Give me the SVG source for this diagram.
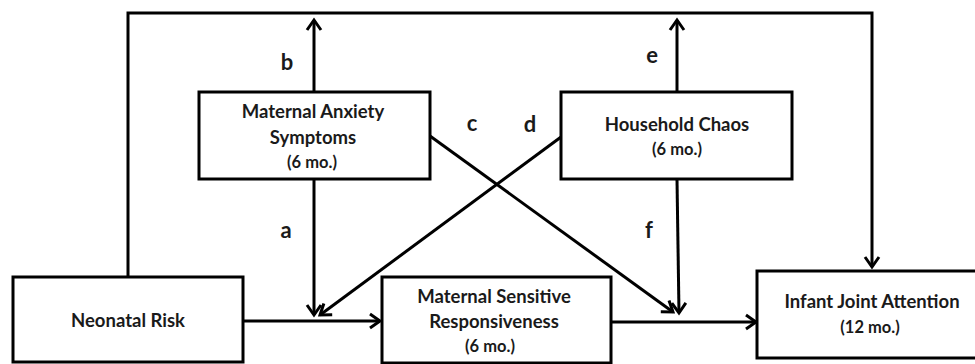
<svg xmlns="http://www.w3.org/2000/svg" width="975" height="364" viewBox="0 0 975 364">
<style>
.box{fill:#fff;stroke:#000;stroke-width:3}
.t{font-family:Lato,"Liberation Sans",sans-serif;font-weight:bold;font-size:18.5px;fill:#1a1a1a;text-anchor:middle}
.s{font-size:16.5px}
.lbl{font-family:Lato,"Liberation Sans",sans-serif;font-weight:bold;font-size:22px;fill:#1a1a1a;text-anchor:middle}
.c{fill:none;stroke:#000;stroke-width:3}
</style>
<defs>
<marker id="ah" markerUnits="userSpaceOnUse" markerWidth="20" markerHeight="20" viewBox="-12 -10 14 20" refX="0" refY="0" orient="auto">
<path d="M-10,-7 L0,0 L-10,7" fill="none" stroke="#000" stroke-width="3"/>
</marker>
</defs>
<rect width="975" height="364" fill="#fff"/>
<g id="connectors">
<polyline class="c" points="128,277 128,13 872,13 872,267" marker-end="url(#ah)"/>
<line class="c" x1="314" y1="92" x2="314" y2="20" marker-end="url(#ah)"/>
<line class="c" x1="677" y1="92" x2="677" y2="20" marker-end="url(#ah)"/>
<line class="c" x1="314" y1="179" x2="314" y2="315" marker-end="url(#ah)"/>
<line class="c" x1="677" y1="179" x2="679" y2="313" marker-end="url(#ah)"/>
<line class="c" x1="430" y1="136" x2="673" y2="312" marker-end="url(#ah)"/>
<line class="c" x1="561" y1="137" x2="320" y2="315" marker-end="url(#ah)"/>
<line class="c" x1="243" y1="321" x2="380" y2="321" marker-end="url(#ah)"/>
<line class="c" x1="611" y1="322" x2="756" y2="322" marker-end="url(#ah)"/>
<text class="lbl" x="287" y="70">b</text>
<text class="lbl" x="652" y="63">e</text>
<text class="lbl" x="472" y="131">c</text>
<text class="lbl" x="530" y="132">d</text>
<text class="lbl" x="286" y="238">a</text>
<text class="lbl" x="649" y="238">f</text>
</g>
<g id="neonatal">
<rect class="box" x="13" y="277" width="230" height="85"/>
<text class="t" x="128" y="327">Neonatal Risk</text>
</g>
<g id="anxiety">
<rect class="box" x="199" y="92" width="231" height="87"/>
<text class="t" x="313" y="118">Maternal Anxiety</text>
<text class="t" x="313" y="144">Symptoms</text>
<text class="t s" x="312" y="168">(6 mo.)</text>
</g>
<g id="chaos">
<rect class="box" x="561" y="92" width="231" height="87"/>
<text class="t" x="677" y="131">Household Chaos</text>
<text class="t s" x="677" y="155">(6 mo.)</text>
</g>
<g id="sensitive">
<rect class="box" x="382" y="277" width="229" height="86"/>
<text class="t" x="494" y="303">Maternal Sensitive</text>
<text class="t" x="494" y="328">Responsiveness</text>
<text class="t s" x="490" y="352">(6 mo.)</text>
</g>
<g id="infant">
<rect class="box" x="757" y="271" width="230" height="87"/>
<text class="t" x="872" y="308">Infant Joint Attention</text>
<text class="t s" x="870" y="333">(12 mo.)</text>
</g>
</svg>
